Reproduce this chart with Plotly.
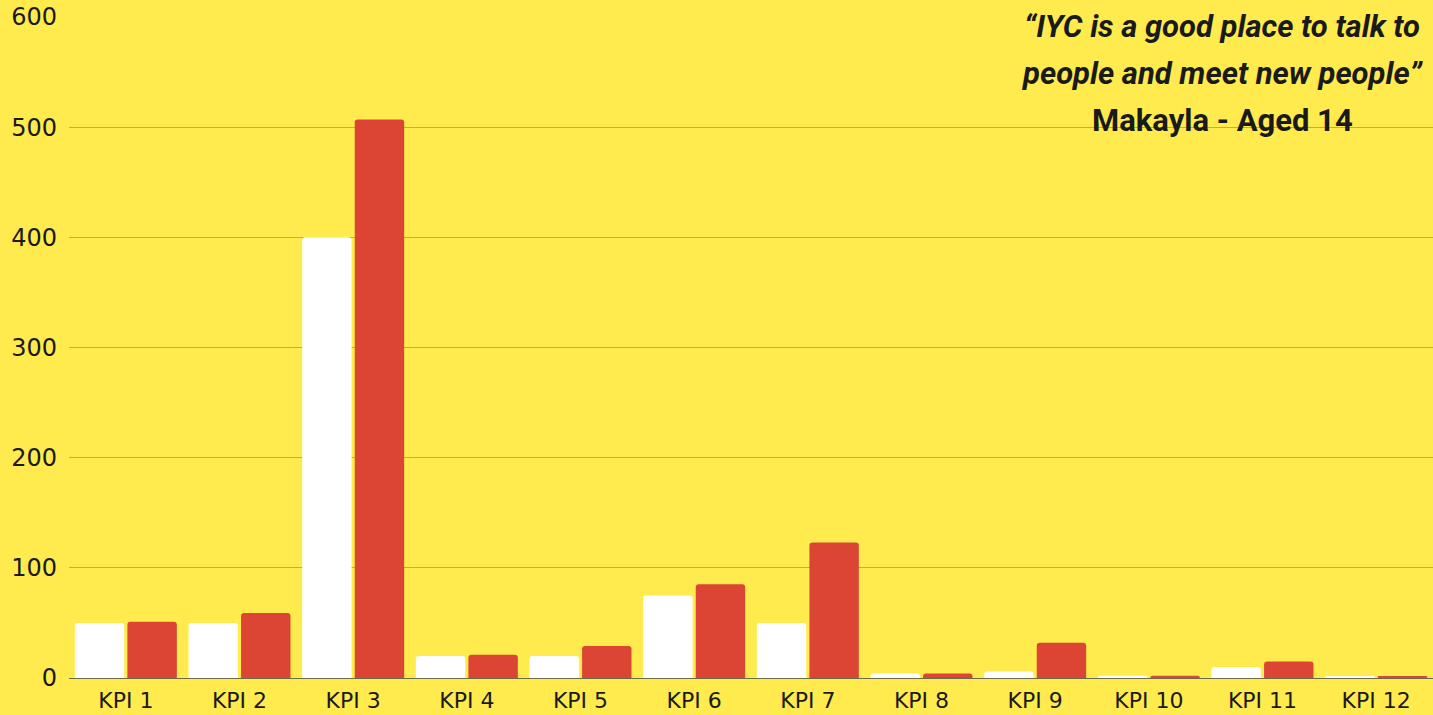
import plotly.graph_objects as go

categories = ["KPI 1", "KPI 2", "KPI 3", "KPI 4", "KPI 5", "KPI 6",
              "KPI 7", "KPI 8", "KPI 9", "KPI 10", "KPI 11", "KPI 12"]
target = [50, 50, 400, 20, 20, 75, 50, 4, 6, 2, 10, 1]
actual = [51, 59, 507, 21, 29, 85, 123, 4, 32, 2, 15, 1]
y_ticks = [0, 100, 200, 300, 400, 500, 600]

quote_lines = ["<i>“IYC is a good place to talk to</i>",
               "<i>people and meet new people”</i>",
               "Makayla - Aged 14"]

BG = "#FFEB4D"
RED = "#DC4434"
GRID = "#BFB03E"

L, R, T, B = 69, 0, 17, 37
W, H = 1433, 715

fig = go.Figure()
fig.add_trace(go.Bar(x=categories, y=target, name="Target", marker_color="#FFFFFF",
                     marker_line_width=0))
fig.add_trace(go.Bar(x=categories, y=actual, name="Actual", marker_color=RED,
                     marker_line_width=0))

fig.update_layout(
    width=W, height=H,
    paper_bgcolor=BG, plot_bgcolor=BG,
    margin=dict(l=L, r=R, t=T, b=B, autoexpand=False),
    barmode="group", bargap=0.075, bargroupgap=0.06,
    barcornerradius=3,
    showlegend=False,
    font=dict(family="DejaVu Sans", color="#1a1a1a"),
)
fig.update_xaxes(showgrid=False, ticks="", automargin=False,
                 tickfont=dict(size=22, family="DejaVu Sans", color="#1a1a1a"),
                 ticklabelstandoff=7, showline=False)
fig.update_yaxes(range=[0, 600], tickvals=y_ticks, showgrid=True, gridcolor=GRID, gridwidth=1,
                 automargin=False,
                 zeroline=True, zerolinecolor="#6b6b4a", zerolinewidth=1,
                 tickfont=dict(size=24, family="DejaVu Sans", color="#1a1a1a"),
                 ticklabelstandoff=11, ticks="")

pw = W - L - R
ph = H - T - B
ys = [1.0 - 9/ph, 1.0 - 57/ph, 1.0 - 104/ph]
for txt, yy in zip(quote_lines, ys):
    fig.add_annotation(text="<b>" + txt + "</b>", xref="paper", yref="paper",
                       x=(1222 - L) / pw, y=yy, xanchor="center", yanchor="middle",
                       showarrow=False,
                       font=dict(family="Roboto", size=31, color="#1a1a1a"))

fig.write_html("out.html", config={"displayModeBar": False},
               post_script="document.body.style.margin='0';")
